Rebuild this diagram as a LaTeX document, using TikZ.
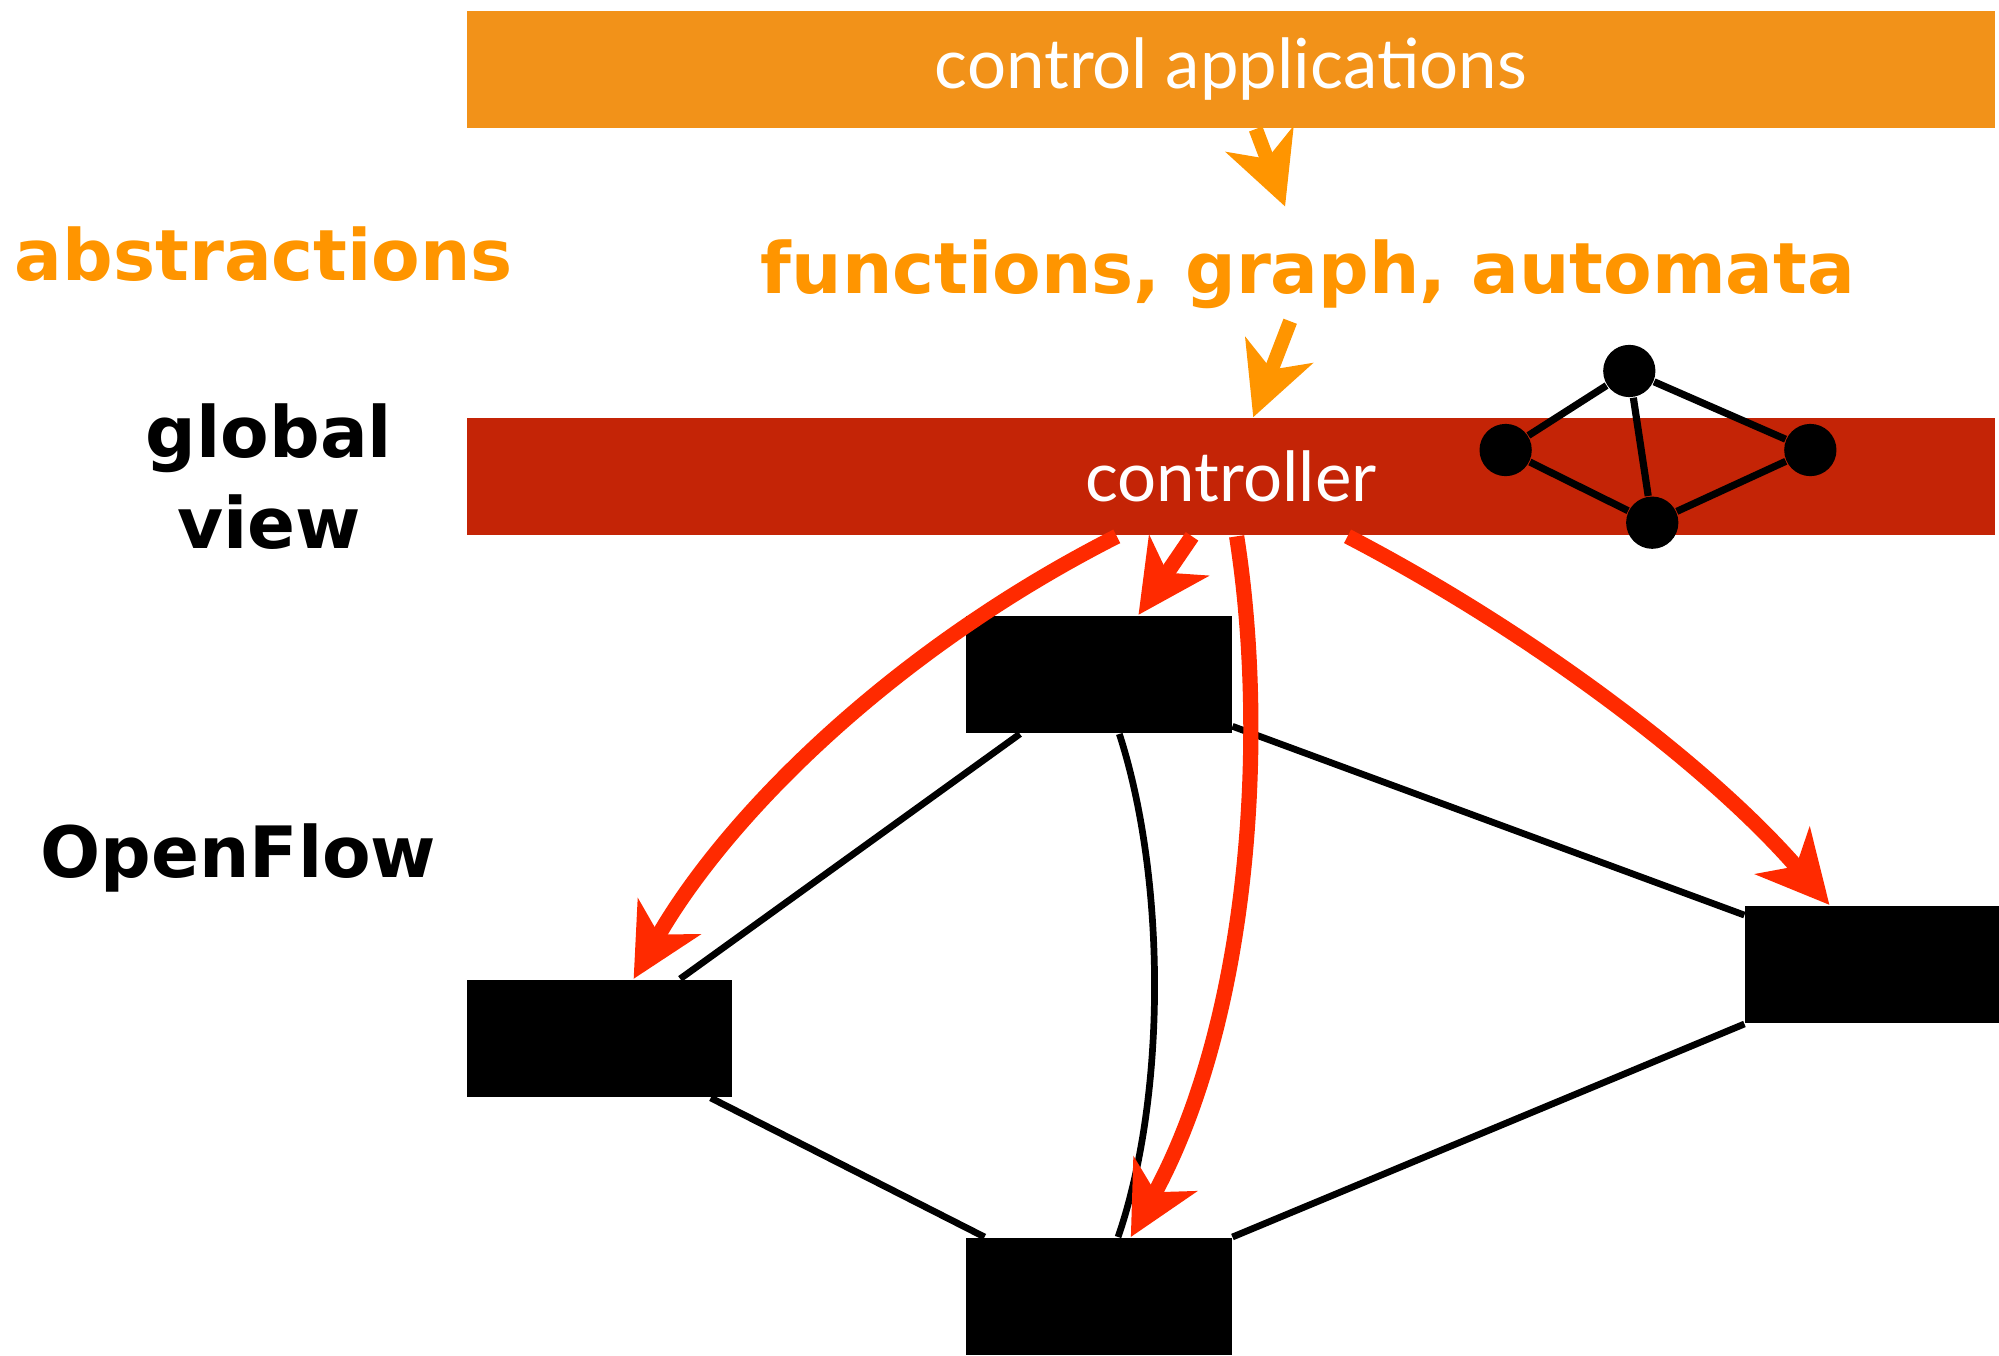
\documentclass[tikz,border=0pt]{standalone}
\usepackage{fontspec}
\setmainfont{Lato}
\newfontfamily\labelfont{DejaVu Sans}
\usetikzlibrary{arrows.meta,positioning}

\definecolor{appsorange}{HTML}{F29219}
\definecolor{absorange}{HTML}{FF9500}
\definecolor{ctrlred}{HTML}{C42406}
\definecolor{flowred}{HTML}{FF2A00}

\tikzstyle{bar} = [rectangle, minimum width=11.99cm, minimum height=0.92cm, inner sep=0pt, text=white, font=\fontsize{15.4}{19}\selectfont]
\tikzstyle{switch} = [draw=none, fill=black, rectangle, minimum width=2.08cm, minimum height=0.92cm]
\tikzstyle{vertex} = [fill=black, circle, minimum size=0.41cm, inner sep=0pt]
\tikzstyle{tag} = [inner sep=0pt, anchor=base, font=\labelfont\bfseries\fontsize{15.8}{19}\selectfont]
\tikzstyle{link} = [draw, line width=1.5pt]
\tikzstyle{flow} = [draw=flowred, line width=3.4pt, -{Stealth[length=5.6mm,width=5.6mm,inset=1.6mm]}]
\tikzstyle{absflow} = [draw=absorange, line width=3.2pt, -{Stealth[length=5.6mm,width=5.6mm,inset=1.6mm]}]

\begin{document}
\begin{tikzpicture}[auto, >=stealth]
  \useasboundingbox (0,0) rectangle (15.68,-10.63);

  % layers
  \node [bar, fill=appsorange] (apps) at (9.655,-0.545) {control applications};
  \node [bar, fill=ctrlred] (ctrl) at (9.655,-3.74) {controller};

  % labels
  \node [tag, text=absorange] (abs) at (2.07,-2.20) {abstractions};
  \node [tag, text=absorange] (funcs) at (10.26,-2.30) {functions, graph, automata};
  \node [tag] (global) at (2.11,-3.585) {global};
  \node [tag] (view) at (2.11,-4.305) {view};
  \node [tag] (of) at (1.87,-6.88) {OpenFlow};

  % switches
  \node [switch] (sw1) at (8.62,-5.29) {};
  \node [switch] (sw2) at (4.705,-8.145) {};
  \node [switch] (sw3) at (14.73,-7.565) {};
  \node [switch] (sw4) at (8.62,-10.17) {};

  % global view graph
  \node [vertex] (g1) at (11.81,-3.53) {};
  \node [vertex] (g2) at (12.78,-2.91) {};
  \node [vertex] (g3) at (14.20,-3.53) {};
  \node [vertex] (g4) at (12.96,-4.10) {};
  \draw [line width=1.6pt] (g1) -- (g2) -- (g3) -- (g4) -- (g1);
  \draw [line width=1.6pt] (g2) -- (g4);

  % links
  \draw [link] ([xshift=-6.2mm]sw1.south) -- ([xshift=6.3mm]sw2.north);
  \draw [link] ([yshift=0.6mm]sw1.south east) -- ([yshift=-0.8mm]sw3.north west);
  \draw [link] ([xshift=8.7mm]sw2.south) -- ([xshift=1.5mm]sw4.north west);
  \draw [link] (sw4.north east) -- (sw3.south west);
  \draw [link] ([xshift=1.6mm]sw1.south) .. controls (9.15,-6.9) and (9.15,-8.6) .. ([xshift=1.5mm]sw4.north);

  % abstraction arrows
  \draw [absflow] ([xshift=1.95mm]apps.south) -- (10.08,-1.62);
  \draw [absflow] (10.12,-2.52) -- ([xshift=1.75mm]ctrl.north);

  % openflow arrows
  \draw [flow] ([xshift=-8.95mm]ctrl.south) .. controls (7.00,-5.10) and (5.70,-6.40) .. ([xshift=2.65mm]sw2.north);
  \draw [flow] ([xshift=-3.05mm]ctrl.south) -- ([xshift=3.1mm]sw1.north);
  \draw [flow] ([xshift=0.45mm]ctrl.south) .. controls (9.95,-5.80) and (9.80,-8.00) .. ([xshift=2.5mm]sw4.north);
  \draw [flow] ([xshift=9.15mm]ctrl.south) .. controls (12.00,-4.95) and (13.40,-6.00) .. ([xshift=-3.8mm]sw3.north);
\end{tikzpicture}
\end{document}
